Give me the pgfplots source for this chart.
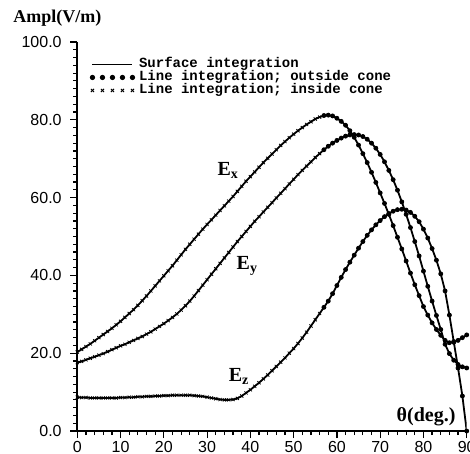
\documentclass[border=0pt]{standalone}
\usepackage{fontspec}
\setmainfont{Liberation Serif}
\newfontfamily\sansf{Liberation Sans}
\newfontfamily\monof{Liberation Mono}
\usepackage{pgfplots}
\usepackage{pgfplotstable}
\pgfplotsset{compat=1.18}

% field amplitude against theta
\pgfplotstableread{
th ex ey ez
0 20.3 17.6 8.7
1 21.0 17.9 8.6
2 21.7 18.3 8.6
3 22.4 18.7 8.5
4 23.2 19.1 8.5
5 24.0 19.5 8.5
6 24.8 19.9 8.5
7 25.6 20.4 8.5
8 26.4 20.9 8.5
9 27.3 21.4 8.5
10 28.2 21.9 8.6
11 29.2 22.3 8.6
12 30.2 22.8 8.7
13 31.2 23.3 8.7
14 32.3 23.8 8.8
15 33.5 24.3 8.8
16 34.7 24.9 8.9
17 36.0 25.5 8.9
18 37.3 26.2 9.0
19 38.6 26.9 9.0
20 39.9 27.6 9.1
21 41.2 28.4 9.1
22 42.5 29.2 9.2
23 43.9 30.1 9.2
24 45.3 31.1 9.2
25 46.7 32.2 9.2
26 48.0 33.4 9.2
27 49.3 34.7 9.1
28 50.6 36.1 9.0
29 51.9 37.5 8.9
30 53.1 38.9 8.7
31 54.3 40.3 8.5
32 55.5 41.7 8.3
33 56.7 43.1 8.1
34 57.9 44.5 8.0
35 59.1 45.9 8.0
36 60.3 47.3 8.1
37 61.6 48.7 8.4
38 62.9 50.0 9.0
39 64.2 51.3 9.8
40 65.4 52.6 10.6
41 66.6 53.9 11.5
42 67.8 55.1 12.4
43 69.0 56.3 13.4
44 70.1 57.5 14.4
45 71.2 58.7 15.5
46 72.3 59.9 16.6
47 73.4 61.1 17.7
48 74.4 62.3 18.8
49 75.4 63.5 20.0
50 76.3 64.7 21.2
51 77.2 65.9 22.5
52 78.0 67.0 23.9
53 78.8 68.1 25.4
54 79.5 69.2 27.0
55 80.2 70.3 28.6
56 80.7 71.3 30.2
57 81.1 72.3 31.8
58 81.2 73.2 33.4
59 81.0 74.0 35.3
60 80.4 74.7 37.4
61 79.6 75.3 39.5
62 78.6 75.8 41.5
63 77.2 76.1 43.4
64 75.5 76.2 45.2
65 73.5 76.1 47.0
66 71.3 75.7 48.7
67 69.0 75.0 50.3
68 66.5 74.0 51.7
69 63.9 72.7 53.0
70 61.2 71.1 54.1
71 58.5 69.2 55.1
72 55.7 67.0 55.9
73 52.8 64.6 56.5
74 49.8 61.9 56.9
75 46.8 58.9 57.0
76 43.7 55.7 56.8
77 40.6 52.3 56.2
78 37.6 48.7 55.2
79 34.8 45.0 53.8
80 32.0 41.1 51.9
81 29.8 37.2 49.6
82 27.8 33.4 46.9
83 26.1 29.7 43.9
84 24.6 26.1 40.4
85 23.3 22.3 36.0
86 22.7 19.9 29.8
87 22.8 18.2 23.0
88 23.3 17.1 16.2
89 24.0 16.5 9.0
90 24.7 16.2 0.0
}\fielddata

\begin{document}
\begin{tikzpicture}
\begin{axis}[
    scale only axis,
    width=194.7pt, height=194.5pt,
    xmin=0, xmax=90,
    ymin=0, ymax=100,
    axis x line*=bottom,
    axis y line*=left,
    axis line style={-, line width=0.9pt},
    xtick={0,10,...,90},
    ytick={0,20,...,100},
    minor x tick num=4,
    minor y tick num=9,
    tick align=outside,
    major tick length=3.5pt,
    minor tick length=2pt,
    tick style={black, line width=0.6pt},
    yticklabel={\pgfmathprintnumber[fixed,fixed zerofill,precision=1]{\tick}},
    /pgf/number format/assume math mode=true,
    ticklabel style={font=\sansf\fontsize{8}{9}\selectfont},
    yticklabel style={xshift=-0.8pt},
    xticklabel style={yshift=1.8pt},
    legend style={at={(axis cs:2.9,96.0)}, anchor=north west, draw=none, fill=none,
        font=\monof\bfseries\fontsize{7}{8}\selectfont, row sep=0pt, inner sep=0pt,
        nodes={inner xsep=2.2pt, inner ysep=0pt, text height=5pt, text depth=1.5pt}},
    legend cell align=left,
]
\addlegendimage{legend image code/.code={\draw[line width=0.9pt] (0pt,0pt) -- (20pt,0pt);}}
\addlegendentry{Surface integration}
\addlegendimage{legend image code/.code={\draw plot[only marks, mark=*, mark size=1.1pt] coordinates {(0pt,0pt) (5pt,0pt) (10pt,0pt) (15pt,0pt) (20pt,0pt)};}}
\addlegendentry{Line integration; outside cone}
\addlegendimage{legend image code/.code={\draw plot[only marks, mark=x, mark size=1.1pt, mark options={line width=0.5pt}] coordinates {(0pt,0pt) (5pt,0pt) (10pt,0pt) (15pt,0pt) (20pt,0pt)};}}
\addlegendentry{Line integration; inside cone}

\addplot[black, line width=0.9pt, forget plot] table[x=th, y=ex]{\fielddata};
\addplot[black, line width=0.9pt, forget plot] table[x=th, y=ey]{\fielddata};
\addplot[black, line width=0.9pt, forget plot] table[x=th, y=ez]{\fielddata};

\addplot[only marks, mark=x, mark size=1.1pt, mark options={line width=0.4pt}, restrict x to domain=0:56.5, forget plot] table[x=th, y=ex]{\fielddata};
\addplot[only marks, mark=x, mark size=1.1pt, mark options={line width=0.4pt}, restrict x to domain=0:56.5, forget plot] table[x=th, y=ey]{\fielddata};
\addplot[only marks, mark=x, mark size=1.1pt, mark options={line width=0.4pt}, restrict x to domain=0:56.5, forget plot] table[x=th, y=ez]{\fielddata};
\addplot[only marks, mark=*, mark size=1pt, restrict x to domain=56.5:90, forget plot] table[x=th, y=ex]{\fielddata};
\addplot[only marks, mark=*, mark size=1pt, restrict x to domain=56.5:90, forget plot] table[x=th, y=ey]{\fielddata};
\addplot[only marks, mark=*, mark size=1pt, restrict x to domain=56.5:90, forget plot] table[x=th, y=ez]{\fielddata};

\node[font=\bfseries\fontsize{10}{12}\selectfont] at (axis cs:34.9,67.1) {E\textsubscript{x}};
\node[font=\bfseries\fontsize{10}{12}\selectfont] at (axis cs:39.3,42.5) {E\textsubscript{y}};
\node[font=\bfseries\fontsize{10}{12}\selectfont] at (axis cs:37.4,14.1) {E\textsubscript{z}};
\node[font=\bfseries\fontsize{10}{12}\selectfont] at (axis cs:80.6,3.6) {θ(deg.)};

\coordinate (ll) at (axis cs:0,0);
\coordinate (ul) at (axis cs:0,100);
\coordinate (ur) at (axis cs:90,100);
\end{axis}
\node[font=\bfseries\fontsize{9}{11}\selectfont] at ([xshift=-10pt,yshift=12pt]ul) {Ampl(V/m)};
\pgfresetboundingbox
\path[use as bounding box] ([xshift=-38.65pt,yshift=-11pt]ll) rectangle ([xshift=1.65pt,yshift=21pt]ur);
\end{tikzpicture}
\end{document}
